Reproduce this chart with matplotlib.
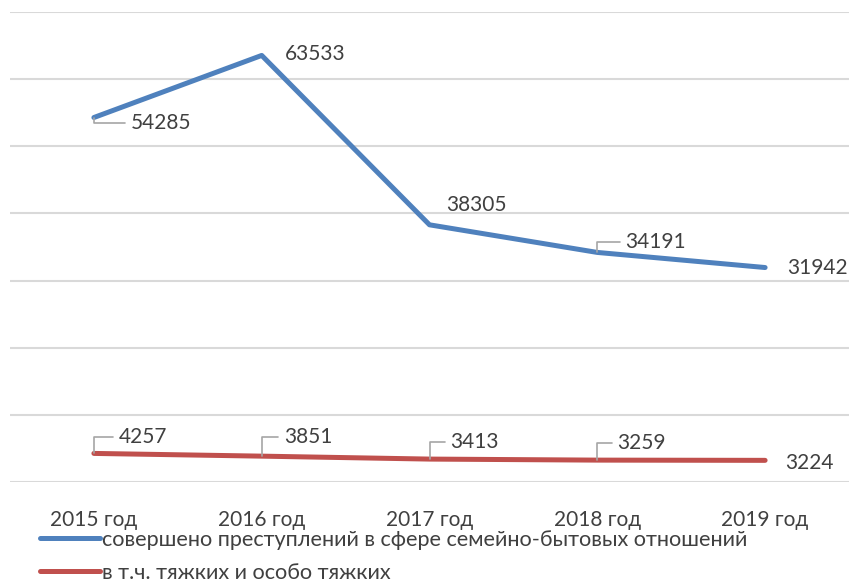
import numpy as np
import matplotlib
matplotlib.use('Agg')
import matplotlib.pyplot as plt

plt.rcParams['font.family'] = ['Lato', 'DejaVu Sans']

# Data
years = ['2015 год', '2016 год', '2017 год', '2018 год', '2019 год']
total = [54285, 63533, 38305, 34191, 31942]
grave = [4257, 3851, 3413, 3259, 3224]
total_label = 'совершено преступлений в сфере семейно-бытовых отношений'
grave_label = 'в т.ч. тяжких и особо тяжких'

blue = '#4F81BD'
red = '#C0504D'
text_color = '#404040'
leader = '#A6A6A6'

fig = plt.figure(figsize=(8.49, 5.81), dpi=100)
ax = fig.add_axes([10 / 849, 1 - 482 / 581, 839 / 849, 470 / 581])

x = np.arange(len(years))
ax.plot(x, total, color=blue, lw=3.6, solid_capstyle='round', label=total_label, zorder=3)
ax.plot(x, grave, color=red, lw=3.6, solid_capstyle='round', label=grave_label, zorder=3)

ax.set_xlim(-0.5, len(years) - 0.5)
ax.set_ylim(0, 70000)
ax.set_yticks(np.arange(0, 70001, 10000))
ax.yaxis.grid(True, color='#D9D9D9', lw=1.5)
ax.set_axisbelow(True)
ax.tick_params(axis='y', left=False, labelleft=False)
ax.tick_params(axis='x', length=0, pad=20, labelsize=15, labelcolor=text_color)
ax.set_xticks(x)
ax.set_xticklabels(years)
for s in ax.spines.values():
    s.set_visible(False)

# data labels: offsets in pixels (dx, dy) and whether a leader line is drawn
total_off = [(37, -5, True), (23, 1, False), (17, 20, False), (28, 10, True), (22, 0, False)]
grave_off = [(25, 16, True), (22, 19, True), (21, 17, True), (20, 17, True), (20, -3, False)]

def put_labels(vals, offs):
    for i, (v, (dx, dy, lead)) in enumerate(zip(vals, offs)):
        props = None
        if lead:
            props = dict(arrowstyle='-', color=leader, lw=1.2,
                         shrinkA=2, shrinkB=0,
                         connectionstyle='angle,angleA=0,angleB=90,rad=0')
        ax.annotate(f'{v}', xy=(i, v), xytext=(dx, dy), textcoords='offset pixels',
                    ha='left', va='center', fontsize=15, color=text_color,
                    arrowprops=props, zorder=4)

put_labels(total, total_off)
put_labels(grave, grave_off)

fig.legend(loc='upper left', bbox_to_anchor=(31 / 849, 1 - 521 / 581),
           frameon=False, fontsize=15.6, handlelength=2.8, handletextpad=0.1,
           labelspacing=0.6, borderaxespad=0, labelcolor=text_color)

fig.savefig('out.png', dpi=100)
